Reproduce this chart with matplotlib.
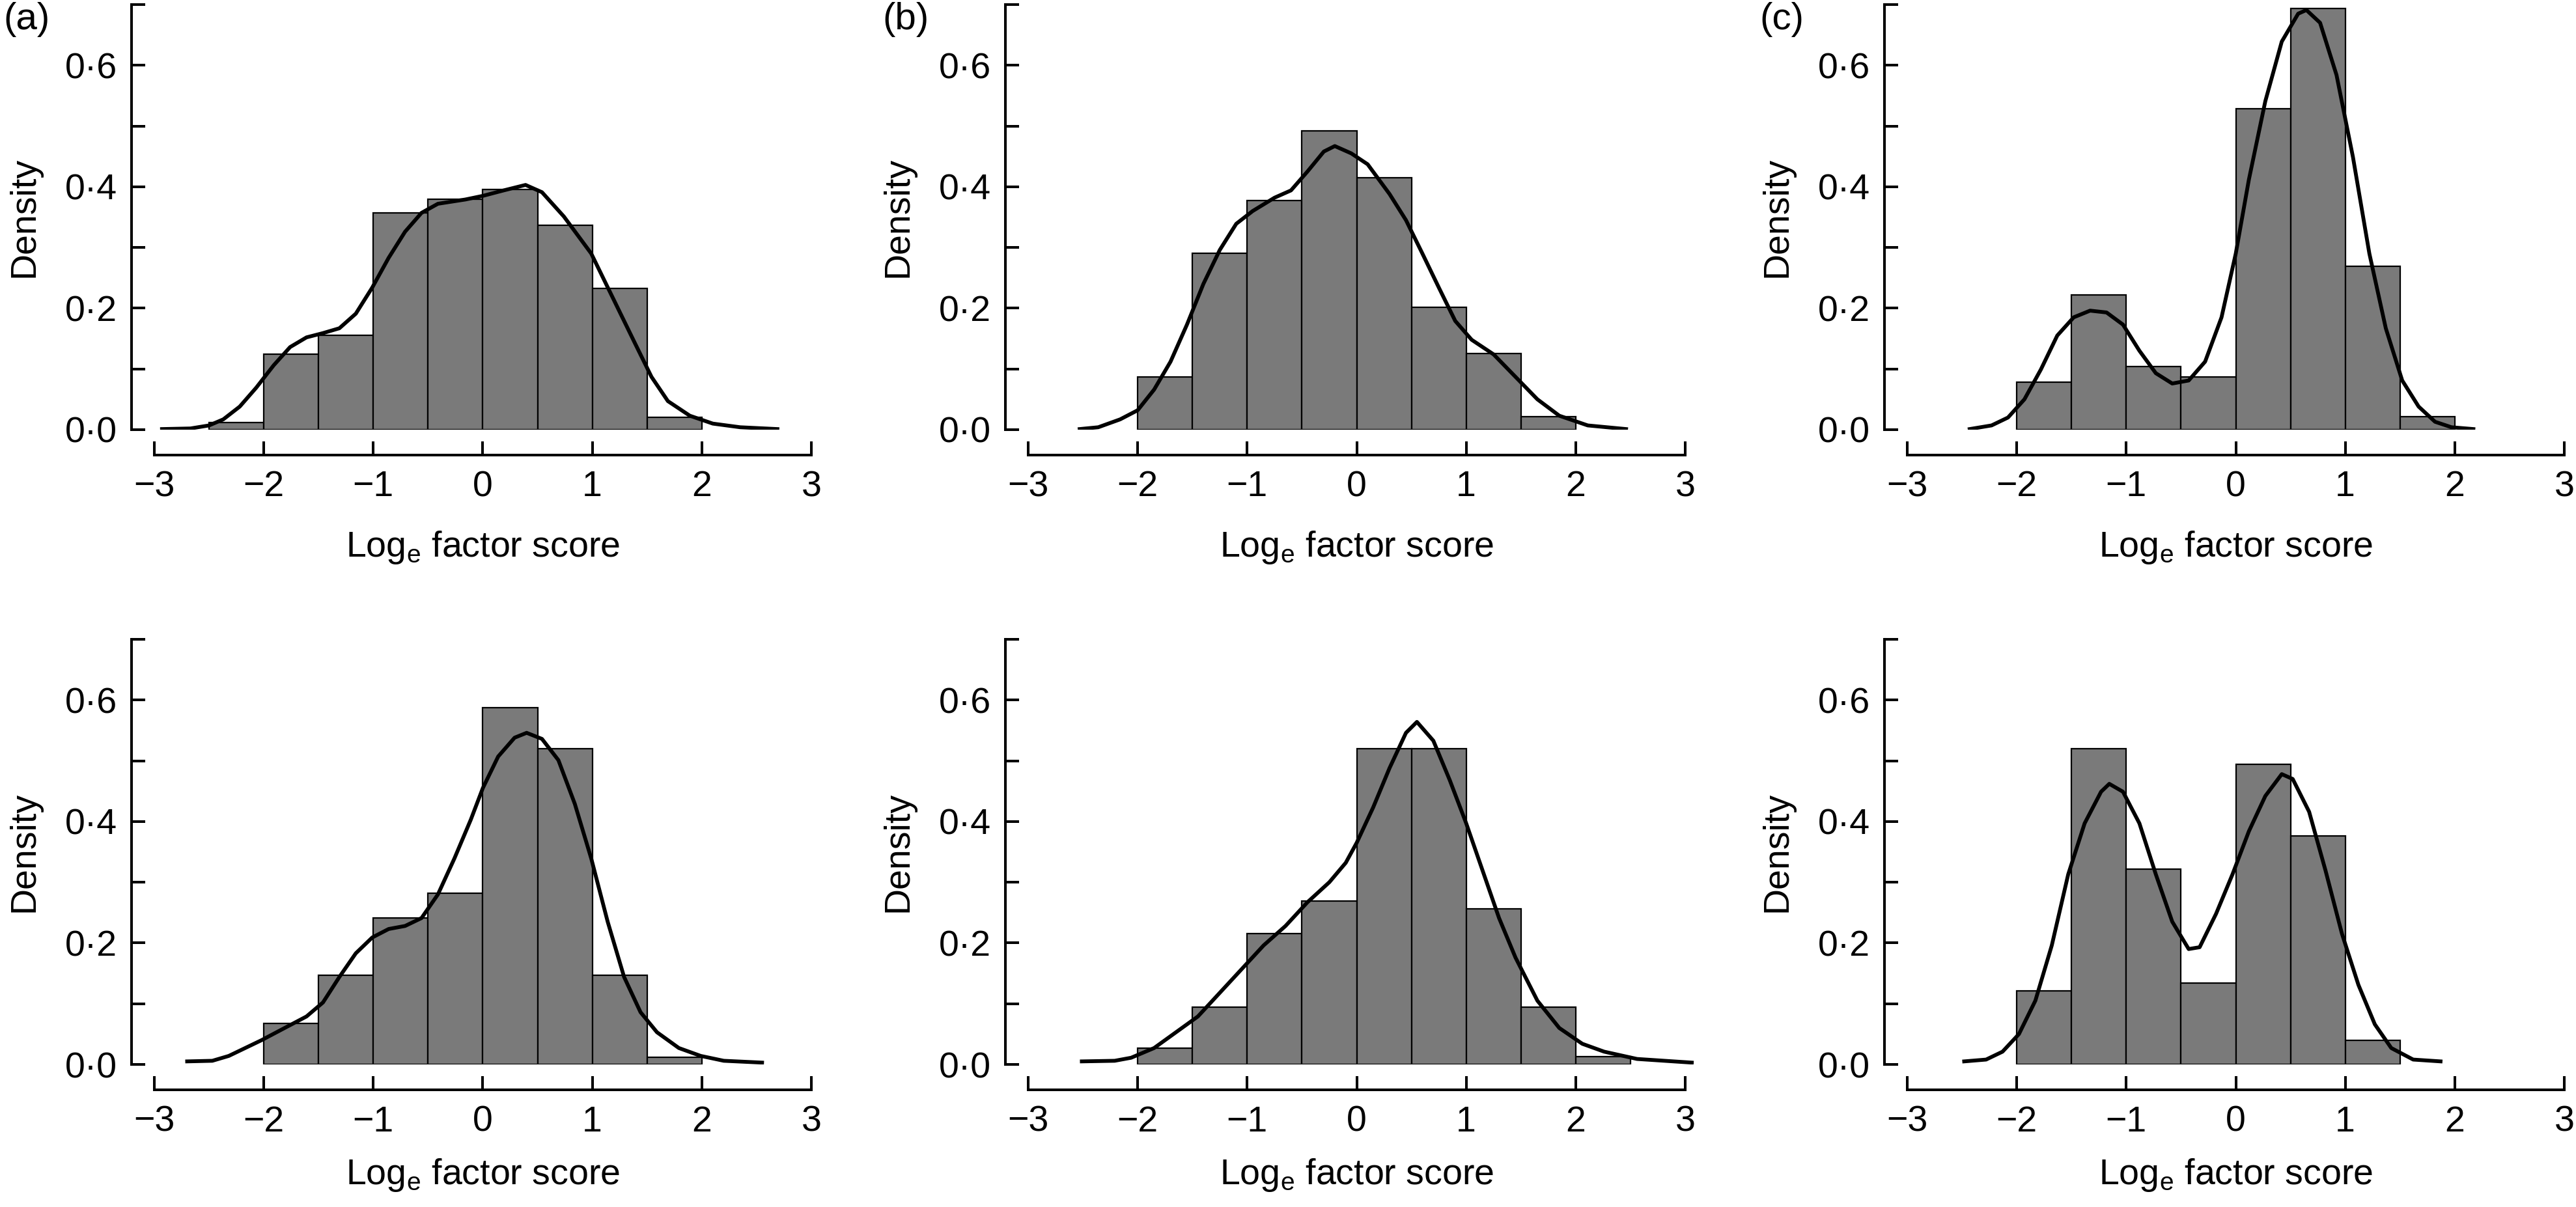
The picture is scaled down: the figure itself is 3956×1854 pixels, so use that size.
import matplotlib

matplotlib.use("Agg")
import matplotlib.pyplot as plt
import numpy as np

# --- histogram data (bin width 0.5) ---
A_EDGES = [-2.5, -2.0, -1.5, -1.0, -0.5, 0.0, 0.5, 1.0, 1.5, 2.0]
A_DENS = [0.012, 0.124, 0.155, 0.357, 0.379, 0.396, 0.337, 0.233, 0.020]
B_EDGES = [-2.0, -1.5, -1.0, -0.5, 0.0, 0.5, 1.0, 1.5, 2.0]
B_DENS = [0.087, 0.290, 0.377, 0.492, 0.415, 0.202, 0.125, 0.021]
C_EDGES = [-2.0, -1.5, -1.0, -0.5, 0.0, 0.5, 1.0, 1.5, 2.0]
C_DENS = [0.078, 0.222, 0.104, 0.087, 0.529, 0.694, 0.269, 0.021]
D_EDGES = [-2.0, -1.5, -1.0, -0.5, 0.0, 0.5, 1.0, 1.5, 2.0]
D_DENS = [0.067, 0.147, 0.241, 0.282, 0.587, 0.520, 0.147, 0.012]
E_EDGES = [-2.0, -1.5, -1.0, -0.5, 0.0, 0.5, 1.0, 1.5, 2.0, 2.5]
E_DENS = [0.027, 0.094, 0.215, 0.269, 0.520, 0.520, 0.256, 0.094, 0.013]
F_EDGES = [-2.0, -1.5, -1.0, -0.5, 0.0, 0.5, 1.0, 1.5]
F_DENS = [0.121, 0.520, 0.322, 0.134, 0.494, 0.376, 0.040]

# --- density curves, points ---
A_KX = [-2.93, -2.67, -2.5, -2.37, -2.22, -2.07, -1.91, -1.76, -1.61, -1.46, -1.31, -1.16, -1.01,
        -0.86, -0.71, -0.56, -0.41, -0.16, 0.0, 0.19, 0.39, 0.54, 0.74, 0.99, 1.19, 1.39, 1.54,
        1.69, 1.89, 2.10, 2.35, 2.69]
A_KY = [0.001, 0.002, 0.007, 0.017, 0.038, 0.069, 0.106, 0.136, 0.152, 0.159, 0.167, 0.191, 0.234,
        0.283, 0.326, 0.357, 0.372, 0.379, 0.385, 0.394, 0.403, 0.391, 0.351, 0.290, 0.216, 0.142,
        0.087, 0.047, 0.023, 0.010, 0.004, 0.001]
B_KX = [-2.53, -2.36, -2.16, -2.0, -1.85, -1.70, -1.55, -1.40, -1.25, -1.10, -0.95, -0.75, -0.60,
        -0.45, -0.30, -0.20, -0.05, 0.10, 0.30, 0.45, 0.60, 0.75, 0.90, 1.05, 1.25, 1.45, 1.65,
        1.85, 2.11, 2.46]
B_KY = [0.001, 0.004, 0.017, 0.032, 0.066, 0.112, 0.173, 0.240, 0.296, 0.339, 0.360, 0.382, 0.394,
        0.425, 0.458, 0.467, 0.455, 0.437, 0.388, 0.345, 0.290, 0.234, 0.179, 0.148, 0.124, 0.087,
        0.050, 0.023, 0.007, 0.001]
C_KX = [-2.43, -2.23, -2.08, -1.93, -1.78, -1.63, -1.48, -1.33, -1.18, -1.03, -0.88, -0.73, -0.58,
        -0.43, -0.28, -0.13, 0.0, 0.12, 0.27, 0.42, 0.57, 0.645, 0.77, 0.92, 1.07, 1.22, 1.37,
        1.52, 1.67, 1.82, 1.97, 2.17]
C_KY = [0.001, 0.007, 0.020, 0.050, 0.099, 0.155, 0.185, 0.196, 0.193, 0.173, 0.130, 0.093, 0.076,
        0.081, 0.112, 0.185, 0.290, 0.412, 0.541, 0.639, 0.685, 0.691, 0.670, 0.584, 0.449, 0.290,
        0.167, 0.081, 0.038, 0.013, 0.004, 0.001]
D_KX = [-2.70, -2.47, -2.32, -2.17, -2.02, -1.81, -1.61, -1.46, -1.31, -1.16, -1.01, -0.86, -0.71,
        -0.56, -0.41, -0.26, -0.11, 0.0, 0.14, 0.29, 0.40, 0.54, 0.69, 0.84, 0.99, 1.14, 1.29,
        1.44, 1.59, 1.79, 1.99, 2.20, 2.55]
D_KY = [0.005, 0.006, 0.014, 0.027, 0.040, 0.060, 0.079, 0.102, 0.144, 0.183, 0.209, 0.223, 0.228,
        0.241, 0.280, 0.339, 0.403, 0.455, 0.507, 0.538, 0.546, 0.536, 0.501, 0.429, 0.339, 0.235,
        0.144, 0.086, 0.053, 0.027, 0.014, 0.006, 0.003]
E_KX = [-2.51, -2.21, -2.06, -1.85, -1.65, -1.45, -1.25, -1.05, -0.85, -0.65, -0.45, -0.25, -0.10,
        0.0, 0.15, 0.30, 0.45, 0.55, 0.70, 0.85, 1.00, 1.15, 1.30, 1.45, 1.65, 1.85, 2.06, 2.26,
        2.56, 3.06]
E_KY = [0.005, 0.006, 0.011, 0.027, 0.053, 0.079, 0.118, 0.157, 0.196, 0.228, 0.267, 0.300, 0.332,
        0.365, 0.423, 0.488, 0.546, 0.564, 0.533, 0.468, 0.397, 0.319, 0.241, 0.176, 0.105, 0.060,
        0.034, 0.021, 0.009, 0.003]
F_KX = [-2.48, -2.28, -2.13, -1.98, -1.83, -1.68, -1.53, -1.38, -1.23, -1.155, -1.03, -0.88, -0.73,
        -0.58, -0.43, -0.33, -0.18, -0.03, 0.12, 0.27, 0.42, 0.52, 0.67, 0.82, 0.97, 1.12, 1.27,
        1.42, 1.62, 1.87]
F_KY = [0.005, 0.008, 0.021, 0.050, 0.105, 0.196, 0.313, 0.397, 0.449, 0.462, 0.449, 0.397, 0.313,
        0.235, 0.190, 0.193, 0.248, 0.313, 0.384, 0.442, 0.478, 0.470, 0.416, 0.319, 0.215, 0.131,
        0.066, 0.027, 0.008, 0.005]

PANEL_LABELS = ["(a)", "(b)", "(c)"]
X_TICKS = [-3, -2, -1, 0, 1, 2, 3]
Y_TICKS = [0.0, 0.2, 0.4, 0.6]
Y_MINOR = [0.1, 0.3, 0.5, 0.7]

PANELS = [
    (A_EDGES, A_DENS, A_KX, A_KY), (B_EDGES, B_DENS, B_KX, B_KY), (C_EDGES, C_DENS, C_KX, C_KY),
    (D_EDGES, D_DENS, D_KX, D_KY), (E_EDGES, E_DENS, E_KX, E_KY), (F_EDGES, F_DENS, F_KX, F_KY),
]

FONT = "Liberation Sans"
plt.rcParams["font.family"] = [FONT, "DejaVu Sans"]
plt.rcParams["mathtext.fontset"] = "custom"
plt.rcParams["mathtext.rm"] = FONT
FS = 40

W, H = 3956, 1854
fig = plt.figure(figsize=(W / 100, H / 100), dpi=100)
lefts = [202, 1544, 2894]
tops = [7, 982]
ax_w, ax_h = 1079, 653
label_x = [5, 1355, 2702]
xlabel_pad = [28, 20]

for i, (edges, dens, kx, ky) in enumerate(PANELS):
    r, c = divmod(i, 3)
    ax = fig.add_axes([lefts[c] / W, 1 - (tops[r] + ax_h) / H, ax_w / W, ax_h / H])
    edges = np.asarray(edges)
    ax.bar(edges[:-1], dens, width=np.diff(edges), align="edge", color="#7a7a7a",
           edgecolor="black", linewidth=1.6, zorder=2)
    ax.plot(kx, ky, color="black", lw=4.2, zorder=3, solid_joinstyle="round")
    ax.set_xlim(-3.208, 3.208)
    ax.set_ylim(0, 0.7)
    for s in ("top", "right"):
        ax.spines[s].set_visible(False)
    ax.spines["left"].set_bounds(0, 0.7)
    ax.spines["bottom"].set_bounds(-3, 3)
    ax.spines["bottom"].set_position(("outward", 28))
    for s in ("left", "bottom"):
        ax.spines[s].set_linewidth(2.9)
    ax.set_xticks(X_TICKS)
    ax.set_xticklabels([f"{t}".replace("-", "\u2212") for t in X_TICKS])
    ax.set_yticks(Y_TICKS)
    ax.set_yticklabels([f"{t:.1f}".replace(".", "\u00b7") for t in Y_TICKS])
    ax.set_yticks(Y_MINOR, minor=True)
    ax.tick_params(axis="both", which="both", direction="in", length=15, width=2.9, labelsize=FS)
    ax.tick_params(axis="y", pad=16)
    ax.tick_params(axis="x", pad=17)
    ax.set_xlabel("Log$_\\mathregular{e}$ factor score", fontsize=FS, labelpad=xlabel_pad[r])
    ax.set_ylabel("Density", fontsize=FS, labelpad=26)
    if r == 0:
        fig.text(label_x[c] / W, 1 - 3 / H, PANEL_LABELS[c], fontsize=FS + 2,
                 ha="left", va="top")

fig.savefig("out.png", dpi=100)
